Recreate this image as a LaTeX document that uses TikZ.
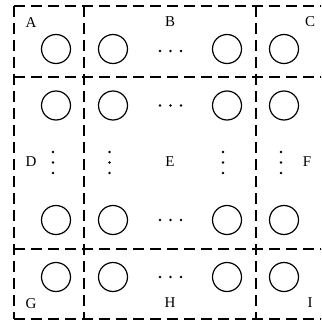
\documentclass[tikz,border=0pt]{standalone}
\usepackage{fontspec}
\setmainfont{Liberation Serif}
\begin{document}
\begin{tikzpicture}[x=1pt,y=-1pt,
  cell/.style={circle,draw,line width=1.2pt,minimum size=29pt,inner sep=0pt},
  region/.style={dash pattern=on 11pt off 6pt,line width=1.1pt},
  lbl/.style={font=\fontsize{15}{15}\selectfont,inner sep=0pt},
  dot/.style={circle,fill,inner sep=0pt,minimum size=2.8pt}]
\useasboundingbox (0,0) rectangle (321,323);
\clip (0,0) rectangle (321,323);
\fill[white] (0,0) rectangle (321,323);
% regions
\draw[region] (14,6) -- (326,6);
\draw[region] (14,77) -- (326,77);
\draw[region] (14,249) -- (326,249);
\draw[region] (14,319) -- (326,319);
\draw[region] (14,6) -- (14,319);
\draw[region] (84,6) -- (84,319);
\draw[region] (256,6) -- (256,319);
% circles
\foreach \c/\x in {1/56,2/113,3/227,4/284}{
  \foreach \r/\y in {1/49,2/105.5,3/220,4/277}{
    \node[cell] (n\r\c) at (\x,\y) {};
  }
}
% horizontal dots
\foreach \r/\y in {1/51,2/105.5,3/220,4/277}{
  \node[dot] (h\r a) at (160,\y) {};
  \node[dot] (h\r b) at (170.5,\y) {};
  \node[dot] (h\r c) at (181,\y) {};
}
% vertical dots
\foreach \c/\x in {1/53,2/109.5,3/223,4/281}{
  \node[dot] (v\c a) at (\x,152) {};
  \node[dot] (v\c b) at (\x,162.5) {};
  \node[dot] (v\c c) at (\x,173) {};
}
% labels
\node[lbl] (A) at (31,23) {A};
\node[lbl] (B) at (170,22) {B};
\node[lbl] (C) at (310,22) {C};
\node[lbl] (D) at (31,162) {D};
\node[lbl] (E) at (170,162) {E};
\node[lbl] (F) at (307,162) {F};
\node[lbl] (G) at (31,304) {G};
\node[lbl] (H) at (170,303) {H};
\node[lbl] (I) at (310,303) {I};
\end{tikzpicture}
\end{document}
